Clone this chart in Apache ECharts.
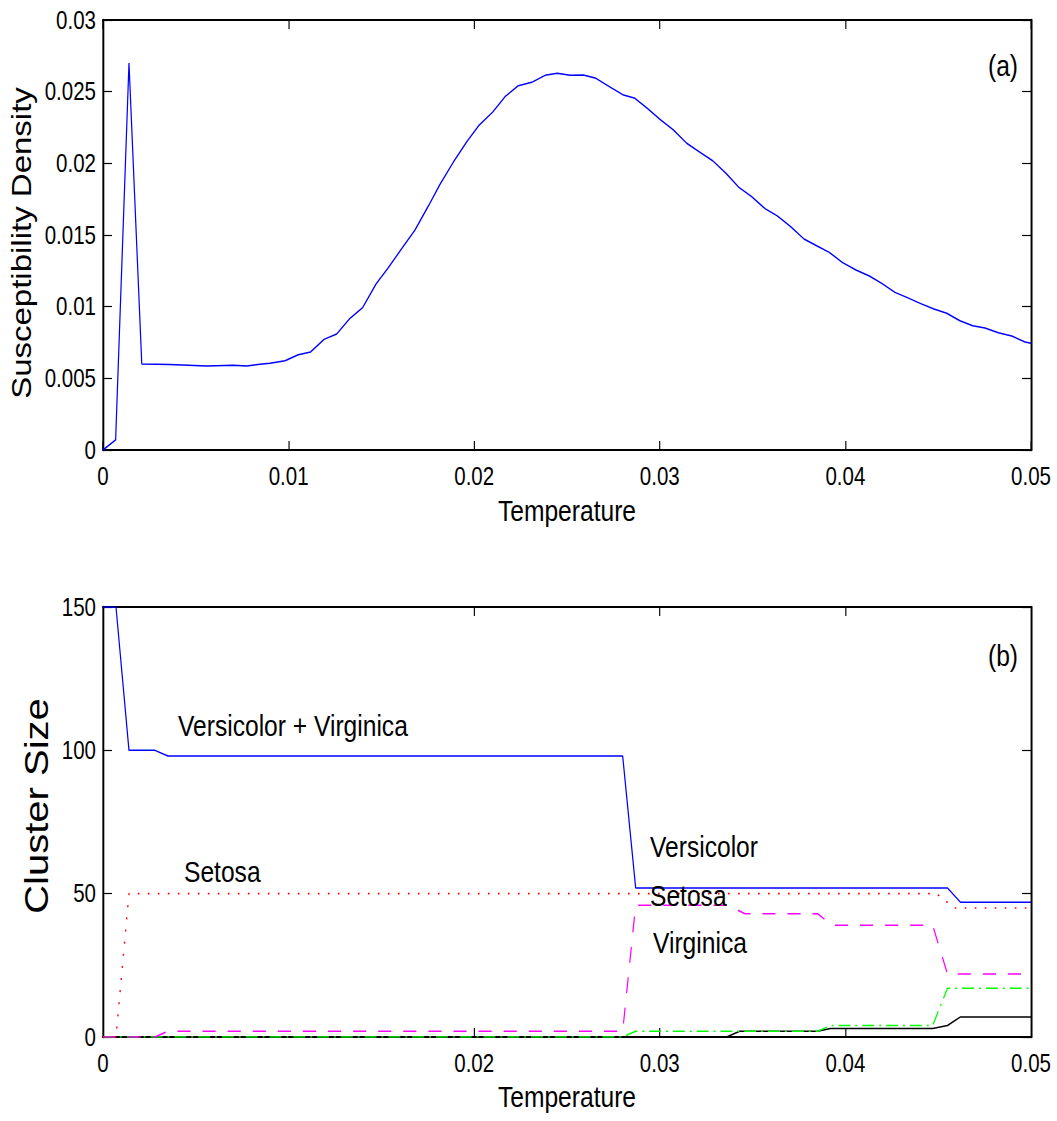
<!DOCTYPE html>
<html>
<head>
<meta charset="utf-8" />
<title>Susceptibility density and cluster size</title>
<script src="https://cdn.jsdelivr.net/npm/echarts@6/dist/echarts.min.js"></script>
<style>
  html, body { margin: 0; padding: 0; background: #fff; overflow: hidden; }
  /* the original figure is squeezed horizontally, text included */
  #chart { width: 1289px; height: 1121px; transform: scaleX(0.82); transform-origin: 0 0; }
</style>
</head>
<body>
<div id="chart"></div>
<script>
// (a) susceptibility density vs temperature
const tempA = [0, 0.00068, 0.0014, 0.00209, 0.0036, 0.00559, 0.00702, 0.00774, 0.00846, 0.0090,
  0.00981, 0.01052, 0.01119, 0.01191, 0.01259, 0.01331, 0.01399, 0.01471, 0.01537, 0.01609,
  0.01681, 0.01753, 0.01816, 0.01887, 0.01960, 0.02027, 0.02100, 0.02166, 0.02238, 0.02310,
  0.02382, 0.02448, 0.02516, 0.02588, 0.02656, 0.02728, 0.02800, 0.02866, 0.02933, 0.03001,
  0.03073, 0.03145, 0.03217, 0.03285, 0.03357, 0.03428, 0.03495, 0.03567, 0.03633, 0.03705,
  0.03777, 0.03845, 0.03913, 0.03985, 0.04057, 0.04129, 0.04196, 0.04267, 0.04334, 0.04406,
  0.04477, 0.04546, 0.04617, 0.04686, 0.04752, 0.04824, 0.04896, 0.04968, 0.05]
const suscA = [0, 0.0007, 0.0270, 0.0060, 0.00597, 0.00586, 0.00591, 0.00586, 0.00598, 0.00605,
  0.00623, 0.00665, 0.00684, 0.00772, 0.00809, 0.00919, 0.00993, 0.01158, 0.01272, 0.01404,
  0.01535, 0.01702, 0.01854, 0.02007, 0.02151, 0.02267, 0.02358, 0.02465, 0.02542, 0.02565,
  0.02614, 0.02628, 0.02614, 0.02616, 0.02593, 0.02535, 0.02479, 0.02454, 0.02384, 0.02307,
  0.02233, 0.02140, 0.02077, 0.02018, 0.01930, 0.01830, 0.01767, 0.01684, 0.01633, 0.01558,
  0.01472, 0.01425, 0.01379, 0.01307, 0.01256, 0.01214, 0.01163, 0.01100, 0.01063, 0.01021,
  0.00984, 0.00954, 0.00902, 0.00867, 0.00851, 0.00818, 0.00795, 0.00754, 0.00744]

// (b) cluster sizes vs temperature
const blueT = [0, 0.0007, 0.0014, 0.0028, 0.0035, 0.0280, 0.0287, 0.0455, 0.0462, 0.05]
const blueC = [150, 150, 100, 100, 98, 98, 52, 52, 47, 47]
const redT = [0, 0.0007, 0.0014, 0.0449, 0.0459, 0.05]
const redC = [0, 0, 50, 50, 45, 45]
const magT = [0, 0.0028, 0.0035, 0.0280, 0.0287, 0.0336, 0.0346, 0.0385, 0.0393, 0.0447, 0.0455, 0.05]
const magC = [0, 0, 2, 2, 46, 46, 43, 43, 39, 39, 22, 22]
const greenT = [0, 0.0280, 0.0287, 0.0385, 0.0392, 0.0447, 0.0455, 0.05]
const greenC = [0, 0, 2, 2, 4, 4, 17, 17]
const blackT = [0, 0.0336, 0.0343, 0.0385, 0.0392, 0.0447, 0.0455, 0.0462, 0.05]
const blackC = [0, 0, 2, 2, 3, 3, 4, 7, 7]

const xLabelsB = [0, 0.02, 0.03, 0.04, 0.05]
const xTicksB = [0.02, 0.03, 0.04]

// page x -> chart x (chart div is squeezed by SX)
const SX = 0.82
function px(x) { return x / SX }

function zip(a, b) {
  return a.map(function (v, i) { return [v, b[i]] })
}

const font = "'Liberation Sans', Arial, Helvetica, sans-serif"
const labelStyle = { show: true, color: "#000", fontSize: 25, fontFamily: font }

function xAx(grid, pos, extra) {
  return Object.assign({
    type: "value", gridIndex: grid, position: pos, min: 0, max: 0.05, interval: 0.01,
    axisLine: { show: true, onZero: false, lineStyle: { color: "#000", width: 2 } },
    axisTick: { show: true, inside: true, length: 9, lineStyle: { color: "#000", width: 1.4 } },
    splitLine: { show: false },
    axisLabel: { show: false }
  }, extra)
}

function yAx(grid, pos, max, interval, extra) {
  return Object.assign({
    type: "value", gridIndex: grid, position: pos, min: 0, max: max, interval: interval,
    axisLine: { show: true, onZero: false, lineStyle: { color: "#000", width: 2.4 } },
    axisTick: { show: true, inside: true, length: px(9), lineStyle: { color: "#000", width: 1.2 } },
    splitLine: { show: false },
    axisLabel: { show: false }
  }, extra)
}

const tickB = { show: true, inside: true, length: 9, customValues: xTicksB, lineStyle: { color: "#000", width: 1.4 } }

// horizontal labels
function txt(s, x, y, size, align) {
  return {
    type: "text", x: px(x), y: y, z: 100,
    style: {
      text: s, fill: "#000", fontSize: size, fontFamily: font,
      align: align || "center", verticalAlign: "middle",
      textAlign: align || "center", textVerticalAlign: "middle"
    }
  }
}

// rotated y labels
function vtxt(s, x, y, size) {
  return {
    type: "text", x: px(x), y: y, rotation: Math.PI / 2, z: 100,
    style: {
      text: s, fill: "#000", fontSize: size, fontFamily: font,
      align: "center", verticalAlign: "middle",
      textAlign: "center", textVerticalAlign: "middle"
    }
  }
}

const option = {
  animation: false,
  backgroundColor: "#fff",
  grid: [
    { left: px(103), top: 20, width: px(928), height: 430 },
    { left: px(103), top: 607, width: px(928), height: 430 }
  ],
  xAxis: [
    xAx(0, "bottom", { axisLabel: Object.assign({ margin: 14 }, labelStyle) }),
    xAx(0, "top"),
    xAx(1, "bottom", {
      axisLabel: Object.assign({ margin: 14, customValues: xLabelsB }, labelStyle),
      axisTick: tickB
    }),
    xAx(1, "top", { axisTick: tickB })
  ],
  yAxis: [
    yAx(0, "left", 0.03, 0.005, { axisLabel: Object.assign({ margin: px(7) }, labelStyle) }),
    yAx(0, "right", 0.03, 0.005),
    yAx(1, "left", 150, 50, { axisLabel: Object.assign({ margin: px(7) }, labelStyle) }),
    yAx(1, "right", 150, 50)
  ],
  series: [
    {
      type: "line", xAxisIndex: 0, yAxisIndex: 0, symbol: "none",
      lineStyle: { color: "#0000ff", width: 1.5 },
      data: zip(tempA, suscA)
    },
    {
      type: "line", xAxisIndex: 2, yAxisIndex: 2, symbol: "none",
      lineStyle: { color: "#000000", width: 1.5 },
      data: zip(blackT, blackC)
    },
    {
      type: "line", xAxisIndex: 2, yAxisIndex: 2, symbol: "none",
      lineStyle: { color: "#00ff00", width: 1.5, type: [14.6, 6, 2.4, 6] },
      data: zip(greenT, greenC)
    },
    {
      type: "line", xAxisIndex: 2, yAxisIndex: 2, symbol: "none",
      lineStyle: { color: "#ff00ff", width: 1.5, type: [16, 14.6] },
      data: zip(magT, magC)
    },
    {
      type: "line", xAxisIndex: 2, yAxisIndex: 2, symbol: "none",
      lineStyle: { color: "#ff0000", width: 1.7, type: [2, 10.2] },
      data: zip(redT, redC)
    },
    {
      type: "line", xAxisIndex: 2, yAxisIndex: 2, symbol: "none",
      lineStyle: { color: "#0000ff", width: 1.5 },
      data: zip(blueT, blueC)
    }
  ],
  graphic: [
    txt("Temperature", 567, 511, 30),
    txt("Temperature", 567, 1097, 30),
    txt("(a)", 1003, 66, 30),
    txt("(b)", 1003, 656, 30),
    txt("Versicolor + Virginica", 178, 726, 30, "left"),
    txt("Setosa", 184, 872, 30, "left"),
    txt("Versicolor", 650, 847, 30, "left"),
    txt("Setosa", 650, 896, 30, "left"),
    txt("Virginica", 653, 943, 30, "left"),
    vtxt("Susceptibility Density", 22, 243, 33),
    vtxt("Cluster Size", 37, 806, 40)
  ]
}

const chart = echarts.init(document.getElementById("chart"), null, { renderer: "svg" })
chart.setOption(option)
</script>
</body>
</html>
